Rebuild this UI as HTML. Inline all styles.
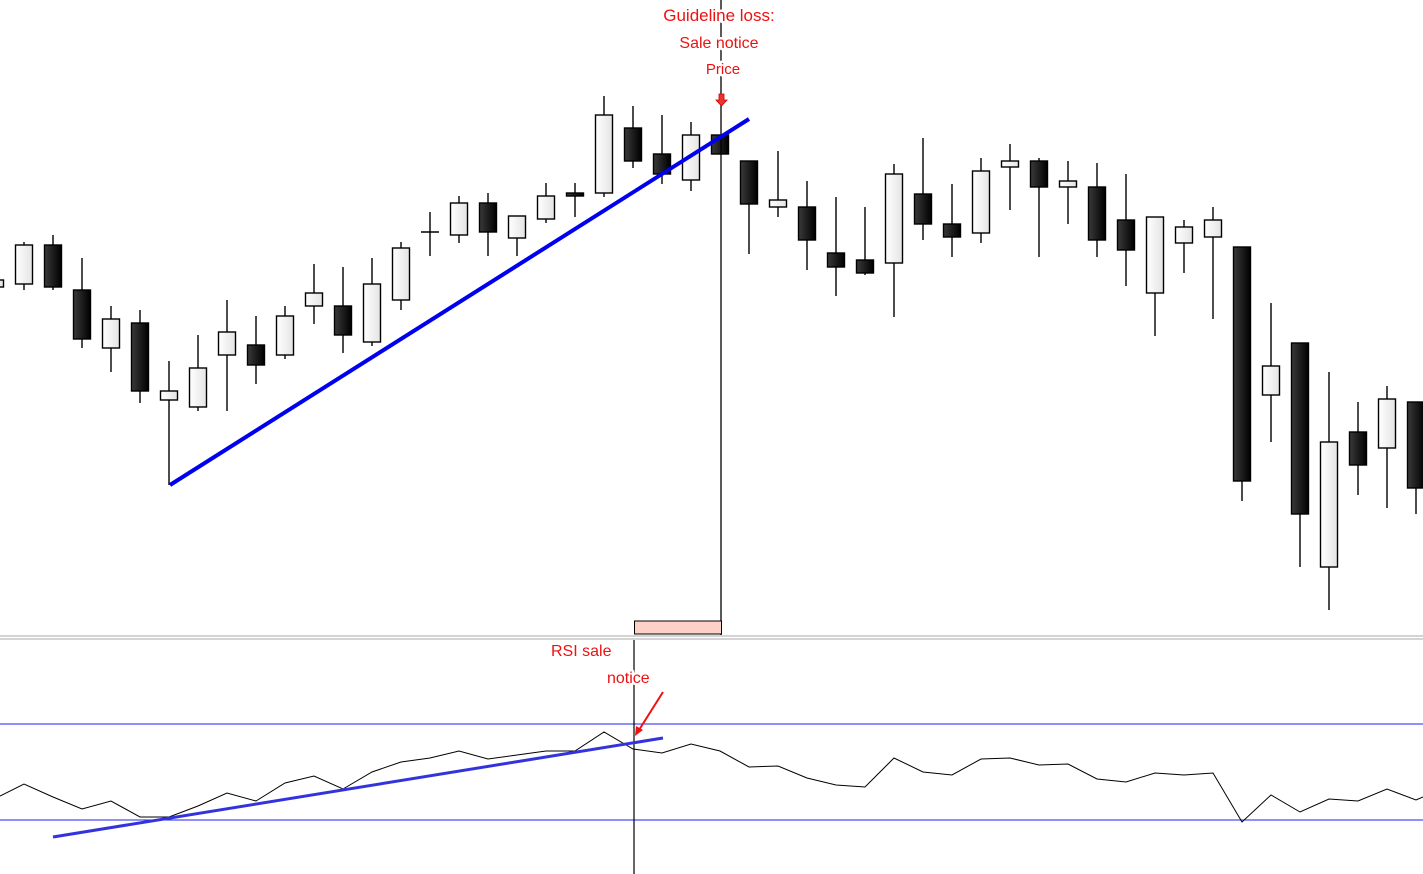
<!DOCTYPE html>
<html><head><meta charset="utf-8"><style>
html,body{margin:0;padding:0;background:#fff;width:1423px;height:874px;overflow:hidden}
svg{display:block}
text{font-family:"Liberation Sans",sans-serif;fill:#ee1111;stroke:#fff;stroke-width:5px;paint-order:stroke;stroke-linejoin:round}
</style></head><body>
<svg width="1423" height="874" viewBox="0 0 1423 874" xmlns="http://www.w3.org/2000/svg">
<defs>
<linearGradient id="w" x1="0" x2="1"><stop offset="0" stop-color="#fff"/><stop offset="1" stop-color="#e4e4e4"/></linearGradient>
<linearGradient id="b" x1="0" x2="1"><stop offset="0" stop-color="#3a3a3a"/><stop offset="1" stop-color="#000"/></linearGradient>
</defs>
<g id="candles" stroke="#000" stroke-width="1.4"></g>
<line x1="721" y1="0" x2="721" y2="635" stroke="#000" stroke-width="1.3"/>
<rect x="634.5" y="621" width="87" height="13" fill="#fdd0c8" stroke="#000" stroke-width="1"/>
<line x1="170" y1="485" x2="749" y2="119" stroke="#0000ee" stroke-width="4"/>
<path d="M719 94h5v6h3l-5.5 6l-5.5-6h3z" fill="#ee3333" stroke="#cc0000" stroke-width="0.8"/>
<text x="719" y="21" font-size="17" text-anchor="middle">Guideline loss:</text>
<text x="719" y="48" font-size="16" text-anchor="middle">Sale notice</text>
<text x="723" y="74" font-size="15" text-anchor="middle">Price</text>
<line x1="0" y1="636" x2="1423" y2="636" stroke="#aaa" stroke-width="1"/>
<line x1="0" y1="639" x2="1423" y2="639" stroke="#aaa" stroke-width="1"/>
<line x1="0" y1="724" x2="1423" y2="724" stroke="#2222ee" stroke-width="1"/>
<line x1="0" y1="820" x2="1423" y2="820" stroke="#2222ee" stroke-width="1"/>
<line x1="634" y1="640" x2="634" y2="874" stroke="#000" stroke-width="1.2"/>
<polyline fill="none" stroke="#000" stroke-width="1" points="0,796 24,784 53,797 82,809 111,801 140,817 169,817 198,806 227,793 256,801 285,783 314,776 343,789 372,772 401,762 430,758 459,751 488,759 517,755 546,751 575,751 604,732 633,749 662,753 691,744 720,751 749,767 778,766 807,778 836,785 865,787 894,758 923,772 952,775 981,759 1010,758 1039,765 1068,764 1097,779 1126,782 1155,773 1184,775 1213,773 1242,822 1271,795 1300,812 1329,799 1358,801 1387,789 1416,800 1423,797"/>
<line x1="53" y1="837" x2="663" y2="738" stroke="#3333dd" stroke-width="3"/>
<text x="551" y="656" font-size="16">RSI sale</text>
<text x="607" y="683" font-size="16">notice</text>
<line x1="663" y1="692" x2="639" y2="730" stroke="#ee1111" stroke-width="2"/>
<path d="M635 736l1-10l7 4z" fill="#ee1111"/>
</svg>
<script>
var d=[[-5,280,287,278,289,'w'],[24,245,284,242,290,'w'],[53,245,287,235,290,'b'],[82,290,339,258,348,'b'],[111,319,348,306,372,'w'],[140,323,391,310,403,'b'],[169,391,400,361,485,'w'],[198,368,407,335,411,'w'],[227,332,355,300,411,'w'],[256,345,365,316,384,'b'],[285,316,355,306,359,'w'],[314,293,306,264,324,'w'],[343,306,335,267,353,'b'],[372,284,342,258,346,'w'],[401,248,300,242,310,'w'],[430,232,232,212,256,'w'],[459,203,235,196,243,'w'],[488,203,232,193,256,'b'],[517,216,238,216,256,'w'],[546,196,219,183,223,'w'],[575,193,196,183,217,'b'],[604,115,193,96,197,'w'],[633,128,161,106,168,'b'],[662,154,174,115,184,'b'],[691,135,180,122,191,'w'],[720,135,154,135,154,'b'],[749,161,204,161,254,'b'],[778,200,207,151,217,'w'],[807,207,240,181,270,'b'],[836,253,267,197,296,'b'],[865,260,273,207,275,'b'],[894,174,263,164,317,'w'],[923,194,224,138,240,'b'],[952,224,237,184,257,'b'],[981,171,233,158,243,'w'],[1010,161,167,144,210,'w'],[1039,161,187,158,257,'b'],[1068,181,187,161,224,'w'],[1097,187,240,163,257,'b'],[1126,220,250,174,286,'b'],[1155,217,293,217,336,'w'],[1184,227,243,220,273,'w'],[1213,220,237,207,319,'w'],[1242,247,481,247,501,'b'],[1271,366,395,303,442,'w'],[1300,343,514,343,567,'b'],[1329,442,567,372,610,'w'],[1358,432,465,402,495,'b'],[1387,399,448,386,508,'w'],[1416,402,488,402,514,'b']];
var g=document.getElementById('candles'),s='';
d.forEach(function(c){var x=c[0];
s+='<line x1="'+x+'" y1="'+c[3]+'" x2="'+x+'" y2="'+c[4]+'"/>';
var h=Math.max(c[2]-c[1],1);
if(c[2]==c[1]) s+='<line x1="'+(x-9)+'" y1="'+c[1]+'" x2="'+(x+9)+'" y2="'+c[1]+'"/>';
else s+='<rect x="'+(x-8.5)+'" y="'+c[1]+'" width="17" height="'+h+'" fill="url(#'+c[5]+')"/>';});
g.innerHTML=s;
</script>
</body></html>
